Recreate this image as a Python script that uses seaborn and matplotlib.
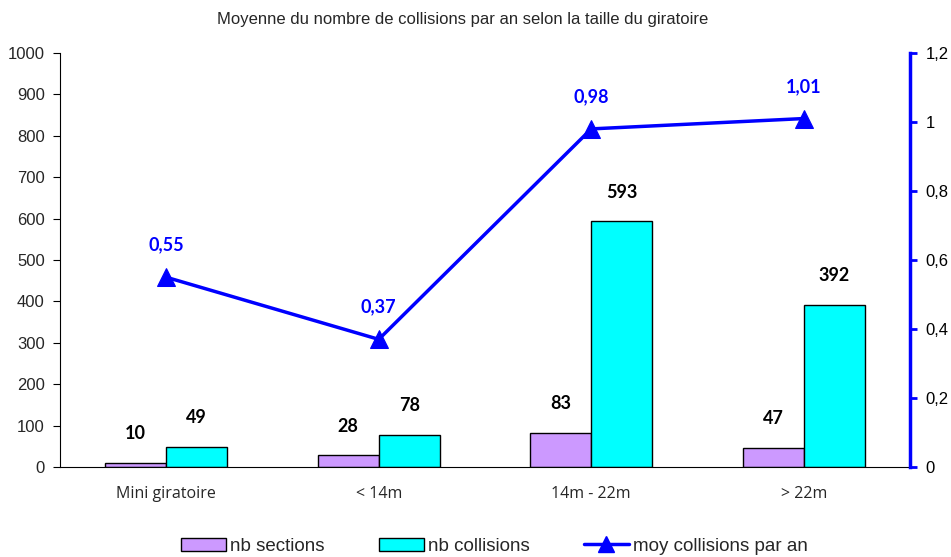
import pandas as pd
import numpy as np
import matplotlib
matplotlib.use('Agg')
import matplotlib.pyplot as plt
import seaborn as sns
from matplotlib.patches import Patch
from matplotlib.lines import Line2D

# Data
categories = ['Mini giratoire', '< 14m', '14m - 22m', '> 22m']
nb_sections = [10, 28, 83, 47]
nb_collisions = [49, 78, 593, 392]
moy_collisions = [0.55, 0.37, 0.98, 1.01]

purple = '#CC99FF'
cyan = '#00FFFF'
blue = '#0000FF'

sns.set_style('white')
plt.rcParams['font.family'] = ['Liberation Sans', 'DejaVu Sans']

df = pd.DataFrame({
    'cat': categories * 2,
    'val': nb_sections + nb_collisions,
    'serie': ['nb sections'] * 4 + ['nb collisions'] * 4,
})

fig = plt.figure(figsize=(9.51, 5.57), dpi=100)
ax = fig.add_axes([60 / 951, 1 - 467 / 557, (910 - 60) / 951, (467 - 53) / 557])

sns.barplot(data=df, x='cat', y='val', hue='serie', order=categories,
            palette=[purple, cyan], width=0.575, edgecolor='black',
            linewidth=1.0, saturation=1, legend=False, ax=ax)

ax.set_xlim(-0.5, 3.5)
ax.set_ylim(0, 1000)
ax.set_yticks(np.arange(0, 1001, 100))
ax.set_xlabel('')
ax.set_ylabel('')
for s in ['top', 'right']:
    ax.spines[s].set_visible(False)
ax.spines['left'].set_color('black')
ax.spines['bottom'].set_color('black')
ax.tick_params(axis='y', direction='out', length=5, color='black', labelsize=12, pad=6)
ax.tick_params(axis='x', which='major', length=0, pad=14)
ax.set_xticks([0.5, 1.5, 2.5], minor=True)
ax.tick_params(axis='x', which='minor', direction='out', length=5, color='black')
for lab in ax.get_xticklabels():
    lab.set_fontfamily('Open Sans')
    lab.set_fontsize(11.5)

# bar value labels
for cont in ax.containers:
    for bar in cont:
        h = bar.get_height()
        ax.annotate(f'{int(h)}', (bar.get_x() + bar.get_width() / 2, h),
                    xytext=(0, 15), textcoords='offset points',
                    ha='center', va='bottom', fontsize=13, fontweight='bold',
                    family='Lato', color='black')

# secondary axis with line
ax2 = ax.twinx()
sns.lineplot(x=np.arange(len(categories)), y=moy_collisions, ax=ax2,
             color=blue, linewidth=2.5, marker='^', markersize=13,
             markeredgecolor=blue, markerfacecolor=blue)
ax2.set_ylim(0, 1.2)
ax2.set_yticks(np.arange(0, 1.21, 0.2))
ax2.set_yticklabels(['0', '0,2', '0,4', '0,6', '0,8', '1', '1,2'])
for s in ['top', 'left', 'bottom']:
    ax2.spines[s].set_visible(False)
ax2.spines['right'].set_color(blue)
ax2.spines['right'].set_linewidth(2.5)
ax2.tick_params(axis='y', direction='out', length=5, width=2, color=blue,
                labelsize=12, labelcolor='black', pad=6)
ax2.set_ylabel('')

for i, v in enumerate(moy_collisions):
    ax2.annotate(f'{v:.2f}'.replace('.', ','), (i, v), xytext=(0, 17),
                 textcoords='offset points', ha='center', va='bottom',
                 fontsize=13, fontweight='bold', family='Lato', color=blue)

fig.text(0.486, 0.965, 'Moyenne du nombre de collisions par an selon la taille du giratoire',
         ha='center', va='center', fontsize=12)

handles = [
    Patch(facecolor=purple, edgecolor='black', label='nb sections'),
    Patch(facecolor=cyan, edgecolor='black', label='nb collisions'),
    Line2D([0], [0], color=blue, linewidth=2.5, marker='^', markersize=12,
           label='moy collisions par an'),
]
fig.legend(handles=handles, loc='center', bbox_to_anchor=(0.52, 0.019), ncol=3,
           frameon=False, fontsize=13.5, columnspacing=2.9, handlelength=2.4,
           handletextpad=0.2)

fig.savefig('out.png', dpi=100)
